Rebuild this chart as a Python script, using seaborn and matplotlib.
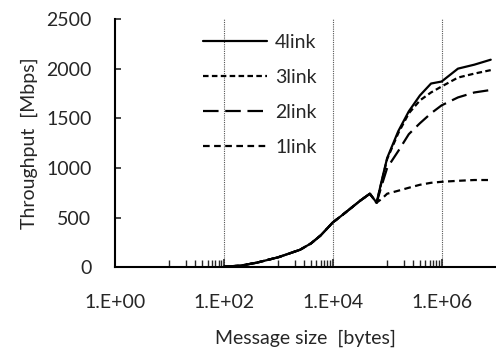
import numpy as np
import pandas as pd
import matplotlib
matplotlib.use("Agg")
import matplotlib.pyplot as plt
import matplotlib.ticker as mticker
import seaborn as sns

# Message sizes in bytes
sizes = [100, 200, 400, 1000, 2500, 4000, 6000, 10000, 15000, 20000, 32000, 48000, 64000,
         80000, 100000, 160000, 250000, 400000, 640000, 1000000, 2000000, 4000000, 8000000]

# Throughput in Mbps
link4 = [5, 15, 45, 100, 175, 240, 320, 450, 525, 580, 670, 740, 650,
         880, 1100, 1370, 1570, 1730, 1850, 1870, 2000, 2040, 2090]
link3 = [5, 15, 45, 100, 175, 240, 320, 450, 525, 580, 670, 740, 650,
         870, 1090, 1350, 1550, 1680, 1760, 1820, 1910, 1950, 1985]
link2 = [5, 15, 45, 100, 175, 240, 320, 450, 525, 580, 670, 740, 650,
         830, 1000, 1170, 1340, 1450, 1550, 1630, 1710, 1760, 1785]
link1 = [5, 15, 45, 100, 175, 240, 320, 450, 525, 580, 670, 740, 650,
         690, 740, 770, 800, 830, 850, 860, 870, 878, 878]

series = {"4link": link4, "3link": link3, "2link": link2, "1link": link1}
dash_styles = {"4link": "-", "3link": (0, (2.5, 1.5)), "2link": (0, (7, 3)), "1link": (0, (3, 2))}

df = pd.DataFrame(series)
df["size"] = sizes
long_df = df.melt(id_vars="size", var_name="link", value_name="throughput")

sns.set_style("ticks")
plt.rcParams["font.family"] = ["Lato", "DejaVu Sans"]

fig = plt.figure(figsize=(4.96, 3.52), dpi=100)
ax = fig.add_axes([0.232, 0.241, 0.768, 0.705])

for name in series:
    sub = long_df[long_df["link"] == name]
    sns.lineplot(data=sub, x="size", y="throughput", ax=ax, color="black",
                 linewidth=1.6, linestyle=dash_styles[name], label=name)

ax.set_xscale("log")
ax.set_xlim(1, 1e7)
ax.set_ylim(0, 2500)
ax.xaxis.set_major_locator(mticker.FixedLocator([1, 1e2, 1e4, 1e6]))
ax.xaxis.set_major_formatter(mticker.FixedFormatter(["1.E+00", "1.E+02", "1.E+04", "1.E+06"]))
minor = [m * 10 ** d for d in [0, 2, 4, 6] for m in range(10, 100, 10)]
ax.xaxis.set_minor_locator(mticker.FixedLocator([v for v in minor if v < 1e7]))
ax.xaxis.set_minor_formatter(mticker.NullFormatter())
ax.yaxis.set_major_locator(mticker.MultipleLocator(500))

for xv in [1e2, 1e4, 1e6]:
    ax.axvline(xv, color="#555555", linestyle=(0, (1, 1)), linewidth=0.8, zorder=0)

ax.tick_params(axis="x", which="major", direction="in", length=6, width=1.2, labelsize=14, pad=19)
ax.tick_params(axis="x", which="minor", direction="in", length=5, width=1.0)
ax.tick_params(axis="y", which="major", direction="in", length=4, width=1.2, labelsize=14, pad=17)

sns.despine(ax=ax)
for s in ["left", "bottom"]:
    ax.spines[s].set_linewidth(1.5)
    ax.spines[s].set_color("black")

ax.set_xlabel("Message size  [bytes]", fontsize=14, labelpad=14)
ax.set_ylabel("Throughput  [Mbps]", fontsize=14, labelpad=6)

ax.legend(loc="upper left", bbox_to_anchor=(0.185, 1.01), frameon=False, fontsize=14,
          handlelength=3.3, labelspacing=0.92, handletextpad=0.4)

fig.savefig("out.png", dpi=100)
